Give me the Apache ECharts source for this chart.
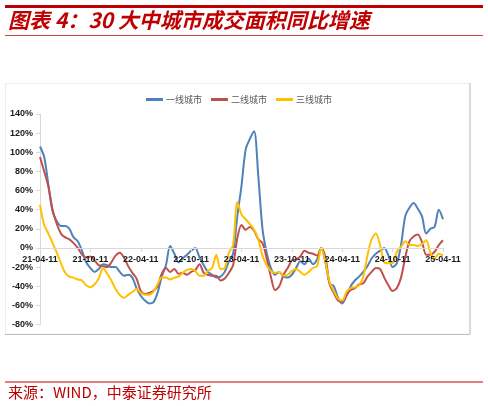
<!DOCTYPE html>
<html>
<head>
<meta charset="utf-8">
<script src="https://cdn.jsdelivr.net/npm/echarts@6/dist/echarts.min.js"></script>
<style>
html,body{margin:0;padding:0;background:#fff;}
#c{width:488px;height:406px;}
</style>
</head>
<body>
<div id="c"></div>
<script>
// categories: half-monthly dates (11th and 26th) from 2021-04-11 to 2025-04-11
var categories = [];
(function(){
  var y = 2021, m = 4;
  for (var k = 0; k < 97; k++) {
    var d = (k % 2 === 0) ? 11 : 26;
    categories.push(String(y).slice(2) + '-' + (m < 10 ? '0' + m : m) + '-' + d);
    if (k % 2 === 1) { m++; if (m > 12) { m = 1; y++; } }
  }
})();

var seriesNames = ['一线城市', '二线城市', '三线城市'];

var tier1 = [106,95,66,38,28,23,23,20,11,7,
  -3,-15,-21,-25,-22,-17,-18,-20,-20,-25,
  -29,-28,-31,-42,-50,-55,-58,-57,-47,-30,
  -18,2,-6,-15,-11,-7,-3,0,-10,-18,
  -25,-28,-31,-30,-25,-14,-6,33,65,103,
  114,122,75,20,-5,-21,-28,-25,-30,-31,
  -28,-21,-14,-17,-11,-17,-12,0,-15,-37,
  -40,-52,-58,-50,-40,-34,-30,-25,-19,-11,
  -6,-3,0,-8,-20,-16,3,33,42,47,
  41,33,15,20,22,40,30];

var tier2 = [95,80,64,40,25,15,11,9,5,0,
  -7,-10,-9,-13,-18,-19,-20,-15,-8,-5,
  -10,-19,-26,-32,-45,-48,-47,-45,-40,-27,
  -21,-25,-22,-27,-26,-28,-25,-23,-17,-26,
  -28,-29,-29,-34,-32,-26,-18,10,24,19,
  22,18,9,5,-11,-30,-44,-40,-28,-21,
  -13,-12,-9,-3,-5,-6,-8,0,-10,-38,
  -47,-55,-56,-49,-44,-42,-38,-37,-30,-25,
  -21,-22,-31,-39,-45,-42,-31,-10,7,12,
  14,6,-7,-7,-4,3,8];

var tier3 = [45,24,15,5,-5,-16,-26,-30,-31,-33,
  -34,-39,-41,-38,-32,-21,-27,-34,-43,-49,
  -52,-49,-46,-43,-47,-49,-49,-46,-38,-31,
  -31,-33,-31,-30,-26,-23,-22,-24,-29,-29,
  -24,-21,-7,-22,-21,-5,3,48,35,30,
  25,19,9,-8,-18,-24,-26,-25,-29,-28,
  -24,-22,-25,-28,-25,-21,-19,0,-15,-36,
  -45,-53,-55,-46,-42,-41,-39,-30,-8,9,
  15,3,-15,-16,-16,-4,1,7,3,3,
  2,4,8,-5,-11,-6,-8];

var yTicks = {min: -80, max: 140, interval: 20};

var titleText = '图表 4：30 大中城市成交面积同比增速';
var sourceText = '来源：WIND，中泰证券研究所';

var colors = ['#4F81BD', '#C0504D', '#FFC000'];
var dataSets = [tier1, tier2, tier3];

var gridTop = 114, gridBottom = 81.5, H = 406;
var plotH = H - gridTop - gridBottom;
// shift the category axis up so it sits on the 0% line of the value axis
var zeroOffset = -plotH * (0 - yTicks.min) / (yTicks.max - yTicks.min);

var chart = echarts.init(document.getElementById('c'), null, {renderer: 'canvas'});
var option = {
  animation: false,
  backgroundColor: '#ffffff',
  color: colors,
  grid: {left: 40, right: 45, top: gridTop, bottom: gridBottom, containLabel: false},
  legend: {
    left: 141, top: 90,
    itemWidth: 17, itemHeight: 3, itemGap: 9,
    icon: 'rect',
    textStyle: {fontSize: 9, color: '#595959', fontFamily: 'Noto Sans CJK SC', padding: [0,0,0,-2]},
    data: seriesNames
  },
  xAxis: {
    type: 'category',
    data: categories,
    boundaryGap: false,
    position: 'bottom',
    offset: zeroOffset,
    z: 20,
    axisLine: {onZero: false, lineStyle: {color: '#d9d9d9', width: 1}},
    axisTick: {show: true, interval: 11, length: 4, lineStyle: {color: '#d9d9d9'}},
    axisLabel: {interval: 11, margin: 7, fontSize: 9, fontWeight: 'bold', color: '#1a1a1a', fontFamily: 'Liberation Sans'},
    splitLine: {show: false}
  },
  yAxis: {
    type: 'value',
    min: yTicks.min, max: yTicks.max, interval: yTicks.interval,
    axisLine: {show: true, lineStyle: {color: '#d9d9d9'}},
    axisTick: {show: true, length: 4, lineStyle: {color: '#d9d9d9'}},
    axisLabel: {formatter: '{value}%', margin: 7, fontSize: 9, fontWeight: 'bold', color: '#1a1a1a', fontFamily: 'Liberation Sans'},
    splitLine: {show: false}
  },
  series: dataSets.map(function(d, k){
    return {
      name: seriesNames[k], type: 'line', data: d,
      showSymbol: false, smooth: 0.3,
      lineStyle: {width: 2, color: colors[k]},
      itemStyle: {color: colors[k]},
      z: 3 + k
    };
  }),
  graphic: [
    {type: 'rect', shape: {x: 5, y: 5, width: 478, height: 3}, style: {fill: '#C00000'}},
    {type: 'text', left: 8, top: 10, style: {text: titleText, fill: '#C00000', font: 'italic bold 21px "Noto Sans CJK SC"'}},
    {type: 'rect', shape: {x: 5, y: 35, width: 478, height: 1}, style: {fill: '#D04040'}},
    {type: 'rect', shape: {x: 5.5, y: 83.5, width: 464.5, height: 250.5}, style: {fill: 'none', stroke: '#ececec', lineWidth: 1}, z: -1},
    {type: 'line', shape: {x1: 470, y1: 83, x2: 470, y2: 334.5}, style: {stroke: '#bfbfbf', lineWidth: 1}},
    {type: 'line', shape: {x1: 5, y1: 334.5, x2: 470, y2: 334.5}, style: {stroke: '#bfbfbf', lineWidth: 1}},
    {type: 'rect', shape: {x: 5, y: 381.5, width: 478, height: 1}, style: {fill: '#C00000'}},
    {type: 'text', left: 8, top: 385, style: {text: sourceText, fill: '#C00000', font: '15px "Noto Sans CJK SC"'}}
  ]
};
chart.setOption(option);
</script>
</body>
</html>
